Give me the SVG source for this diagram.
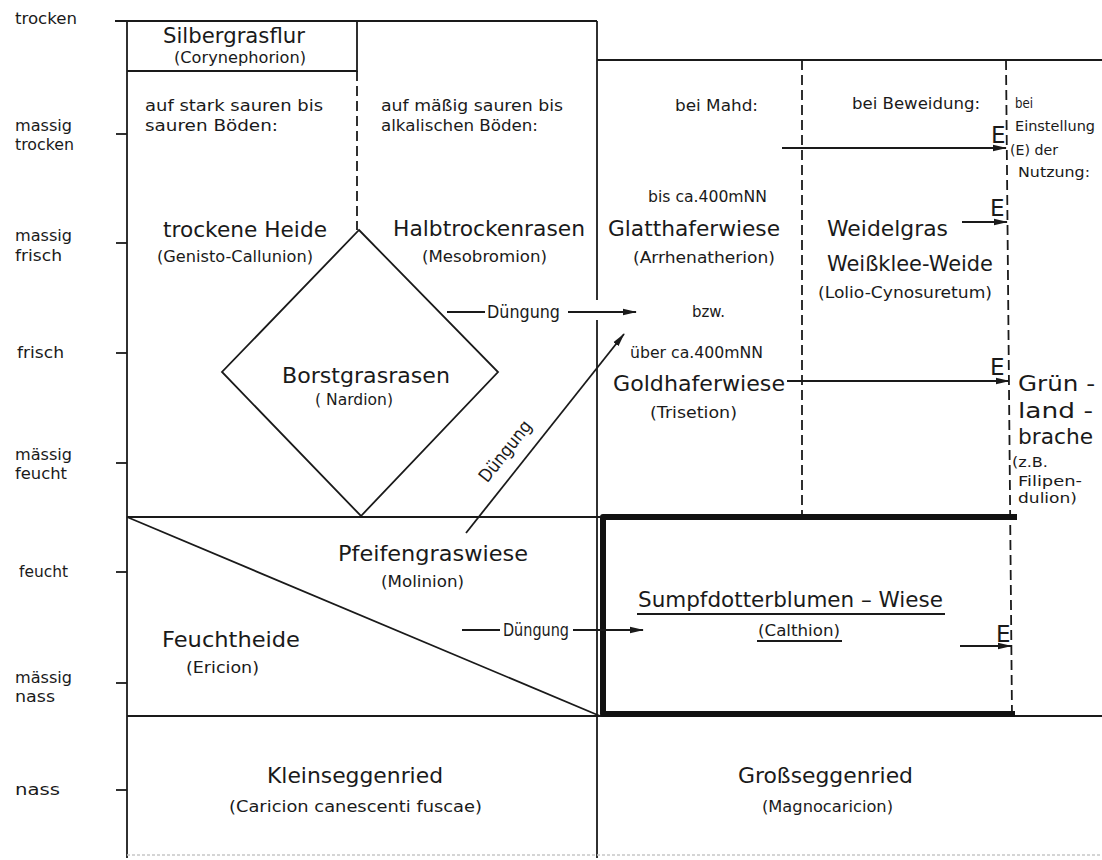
<svg xmlns="http://www.w3.org/2000/svg" width="1102" height="860" viewBox="0 0 1102 860">
<style>
text{font-family:"DejaVu Sans","Liberation Sans",sans-serif;fill:#1a1a1a}
.ax{font-size:16px}
.nt{font-size:16px}
.nm{font-size:21px}
.sb{font-size:15px}
.sm{font-size:14px}
.e{font-size:23px}
.dg{font-size:18px}
.ln{stroke:#1a1a1a;stroke-width:1.8;fill:none}
.ds{stroke:#1a1a1a;stroke-width:1.8;fill:none;stroke-dasharray:10 5}
.th{stroke:#111;stroke-width:6;fill:none;stroke-linejoin:round}
.ar{stroke:#1a1a1a;stroke-width:1.8;fill:none;marker-end:url(#ah)}
</style>
<defs>
<marker id="ah" viewBox="0 0 14 8" refX="13" refY="4" markerWidth="14" markerHeight="8" markerUnits="userSpaceOnUse" orient="auto">
<path d="M0,0.8 L14,4 L0,7.2 Z" fill="#1a1a1a"/>
</marker>
</defs>
<rect width="1102" height="860" fill="#fff"/>

<g id="axis">
<line class="ln" x1="127" y1="21" x2="127" y2="858"/>
<line class="ln" x1="116" y1="134" x2="127" y2="134"/>
<line class="ln" x1="116" y1="243" x2="127" y2="243"/>
<line class="ln" x1="116" y1="353" x2="127" y2="353"/>
<line class="ln" x1="116" y1="463" x2="127" y2="463"/>
<line class="ln" x1="116" y1="572" x2="127" y2="572"/>
<line class="ln" x1="116" y1="683" x2="127" y2="683"/>
<line class="ln" x1="116" y1="790" x2="127" y2="790"/>
<text class="ax" x="15" y="24" textLength="62" lengthAdjust="spacingAndGlyphs">trocken</text>
<text class="ax" x="15" y="131" textLength="57" lengthAdjust="spacingAndGlyphs">massig</text>
<text class="ax" x="15" y="150" textLength="59" lengthAdjust="spacingAndGlyphs">trocken</text>
<text class="ax" x="15" y="241" textLength="57" lengthAdjust="spacingAndGlyphs">massig</text>
<text class="ax" x="15" y="261" textLength="47" lengthAdjust="spacingAndGlyphs">frisch</text>
<text class="ax" x="17" y="358" textLength="47" lengthAdjust="spacingAndGlyphs">frisch</text>
<text class="ax" x="15" y="460" textLength="57" lengthAdjust="spacingAndGlyphs">mässig</text>
<text class="ax" x="15" y="479" textLength="52" lengthAdjust="spacingAndGlyphs">feucht</text>
<text class="ax" x="19" y="577" textLength="49" lengthAdjust="spacingAndGlyphs">feucht</text>
<text class="ax" x="15" y="683" textLength="57" lengthAdjust="spacingAndGlyphs">mässig</text>
<text class="ax" x="15" y="702" textLength="40" lengthAdjust="spacingAndGlyphs">nass</text>
<text class="ax" x="15" y="795" textLength="45" lengthAdjust="spacingAndGlyphs">nass</text>
</g>

<g id="frame">
<line class="ln" x1="115" y1="21" x2="597" y2="21"/>
<line class="ln" x1="597" y1="21" x2="597" y2="300"/>
<line class="ln" x1="597" y1="320" x2="597" y2="858"/>
<line class="ln" x1="597" y1="60" x2="1102" y2="60"/>
<line class="ds" x1="357" y1="71" x2="357" y2="230"/>
<line class="ds" x1="802" y1="60" x2="802" y2="517"/>
<line class="ds" x1="1006" y1="60" x2="1012" y2="716"/>
<line class="ln" x1="127" y1="517" x2="600" y2="517"/>
<line class="ln" x1="127" y1="716" x2="1102" y2="716"/>
<line stroke="#c8c8c8" stroke-width="1.5" stroke-dasharray="3 2" x1="127" y1="855" x2="1102" y2="855"/>
<text class="nt" x="145" y="111" textLength="178" lengthAdjust="spacingAndGlyphs">auf stark sauren bis</text>
<text class="nt" x="145" y="131" textLength="133" lengthAdjust="spacingAndGlyphs">sauren Böden:</text>
<text class="nt" x="381" y="111" textLength="182" lengthAdjust="spacingAndGlyphs">auf mäßig sauren bis</text>
<text class="nt" x="381" y="131" textLength="157" lengthAdjust="spacingAndGlyphs">alkalischen Böden:</text>
<text class="nt" x="675" y="111" textLength="83" lengthAdjust="spacingAndGlyphs">bei Mahd:</text>
<text class="nt" x="852" y="109" textLength="128" lengthAdjust="spacingAndGlyphs">bei Beweidung:</text>
<text class="sm" x="1015" y="108" textLength="18" lengthAdjust="spacingAndGlyphs">bei</text>
<text class="sm" x="1015" y="131" textLength="80" lengthAdjust="spacingAndGlyphs">Einstellung</text>
<text class="sm" x="1010" y="155" textLength="48" lengthAdjust="spacingAndGlyphs">(E) der</text>
<text class="sm" x="1018" y="177" textLength="72" lengthAdjust="spacingAndGlyphs">Nutzung:</text>
</g>

<g id="silbergrasflur">
<path class="ln" d="M127,71 H357 V21"/>
<text class="nm" x="163" y="43" textLength="142" lengthAdjust="spacingAndGlyphs">Silbergrasflur</text>
<text class="sb" x="174" y="63" textLength="132" lengthAdjust="spacingAndGlyphs">(Corynephorion)</text>
</g>

<g id="trockene-heide">
<text class="nm" x="163" y="237" textLength="164" lengthAdjust="spacingAndGlyphs">trockene Heide</text>
<text class="sb" x="157" y="262" textLength="156" lengthAdjust="spacingAndGlyphs">(Genisto-Callunion)</text>
</g>

<g id="halbtrockenrasen">
<text class="nm" x="393" y="236" textLength="192" lengthAdjust="spacingAndGlyphs">Halbtrockenrasen</text>
<text class="sb" x="422" y="262" textLength="125" lengthAdjust="spacingAndGlyphs">(Mesobromion)</text>
</g>

<g id="borstgrasrasen">
<path class="ln" d="M359,230 L498,372 L361,516 L222,372 Z"/>
<text class="nm" x="282" y="383" textLength="168" lengthAdjust="spacingAndGlyphs">Borstgrasrasen</text>
<text class="sb" x="315" y="405" textLength="78" lengthAdjust="spacingAndGlyphs">( Nardion)</text>
</g>

<g id="glatthaferwiese">
<text class="sb" x="648" y="202" textLength="119" lengthAdjust="spacingAndGlyphs">bis ca.400mNN</text>
<text class="nm" x="608" y="236" textLength="172" lengthAdjust="spacingAndGlyphs">Glatthaferwiese</text>
<text class="sb" x="633" y="263" textLength="142" lengthAdjust="spacingAndGlyphs">(Arrhenatherion)</text>
<text class="sb" x="692" y="317" textLength="33" lengthAdjust="spacingAndGlyphs">bzw.</text>
</g>

<g id="goldhaferwiese">
<text class="sb" x="630" y="358" textLength="133" lengthAdjust="spacingAndGlyphs">über ca.400mNN</text>
<text class="nm" x="613" y="391" textLength="172" lengthAdjust="spacingAndGlyphs">Goldhaferwiese</text>
<text class="sb" x="650" y="418" textLength="87" lengthAdjust="spacingAndGlyphs">(Trisetion)</text>
</g>

<g id="weidelgras-weide">
<text class="nm" x="827" y="236" textLength="121" lengthAdjust="spacingAndGlyphs">Weidelgras</text>
<text class="nm" x="827" y="271" textLength="166" lengthAdjust="spacingAndGlyphs">Weißklee-Weide</text>
<text class="sb" x="818" y="298" textLength="174" lengthAdjust="spacingAndGlyphs">(Lolio-Cynosuretum)</text>
</g>

<g id="gruenlandbrache">
<text class="nm" x="1018" y="391" textLength="77" lengthAdjust="spacingAndGlyphs">Grün -</text>
<text class="nm" x="1018" y="418" textLength="75" lengthAdjust="spacingAndGlyphs">land -</text>
<text class="nm" x="1018" y="444" textLength="75" lengthAdjust="spacingAndGlyphs">brache</text>
<text class="sm" x="1012" y="467" textLength="36" lengthAdjust="spacingAndGlyphs">(z.B.</text>
<text class="sm" x="1018" y="486" textLength="64" lengthAdjust="spacingAndGlyphs">Filipen-</text>
<text class="sm" x="1018" y="503" textLength="59" lengthAdjust="spacingAndGlyphs">dulion)</text>
</g>

<g id="pfeifengraswiese">
<path class="ln" d="M127,517 L600,716"/>
<text class="nm" x="338" y="561" textLength="190" lengthAdjust="spacingAndGlyphs">Pfeifengraswiese</text>
<text class="sb" x="381" y="587" textLength="83" lengthAdjust="spacingAndGlyphs">(Molinion)</text>
</g>

<g id="feuchtheide">
<text class="nm" x="162" y="647" textLength="138" lengthAdjust="spacingAndGlyphs">Feuchtheide</text>
<text class="sb" x="186" y="673" textLength="73" lengthAdjust="spacingAndGlyphs">(Ericion)</text>
</g>

<g id="sumpfdotterblumen-wiese">
<path class="th" d="M1017,517 H603 V714 H1015"/>
<text class="nm" x="638" y="607" textLength="305" lengthAdjust="spacingAndGlyphs">Sumpfdotterblumen – Wiese</text>
<line class="ln" x1="637" y1="614" x2="945" y2="614"/>
<text class="sb" x="758" y="636" textLength="82" lengthAdjust="spacingAndGlyphs">(Calthion)</text>
<line class="ln" x1="757" y1="641" x2="842" y2="641"/>
</g>

<g id="kleinseggenried">
<text class="nm" x="267" y="783" textLength="176" lengthAdjust="spacingAndGlyphs">Kleinseggenried</text>
<text class="sb" x="229" y="812" textLength="253" lengthAdjust="spacingAndGlyphs">(Caricion canescenti  fuscae)</text>
</g>

<g id="grossseggenried">
<text class="nm" x="738" y="783" textLength="175" lengthAdjust="spacingAndGlyphs">Großseggenried</text>
<text class="sb" x="762" y="812" textLength="131" lengthAdjust="spacingAndGlyphs">(Magnocaricion)</text>
</g>

<g id="connectors">
<line class="ln" x1="447" y1="312" x2="485" y2="312"/>
<text class="dg" x="487" y="318" textLength="73" lengthAdjust="spacingAndGlyphs">Düngung</text>
<line class="ar" x1="568" y1="312" x2="636" y2="312"/>
<line class="ar" x1="466" y1="533" x2="624" y2="334"/>
<text class="dg" transform="translate(510,455) rotate(-51.6)" text-anchor="middle" textLength="73" lengthAdjust="spacingAndGlyphs">Düngung</text>
<line class="ln" x1="462" y1="630" x2="500" y2="630"/>
<text class="dg" x="503" y="636" textLength="66" lengthAdjust="spacingAndGlyphs">Düngung</text>
<line class="ar" x1="573" y1="630" x2="643" y2="630"/>
<line class="ar" x1="782" y1="148" x2="1006" y2="148"/>
<text class="e" x="991" y="143">E</text>
<line class="ar" x1="962" y1="222" x2="1007" y2="222"/>
<text class="e" x="990" y="216">E</text>
<line class="ar" x1="787" y1="381" x2="1009" y2="381"/>
<text class="e" x="990" y="375">E</text>
<line class="ar" x1="960" y1="646" x2="1011" y2="646"/>
<text class="e" x="996" y="642">E</text>
</g>
</svg>
